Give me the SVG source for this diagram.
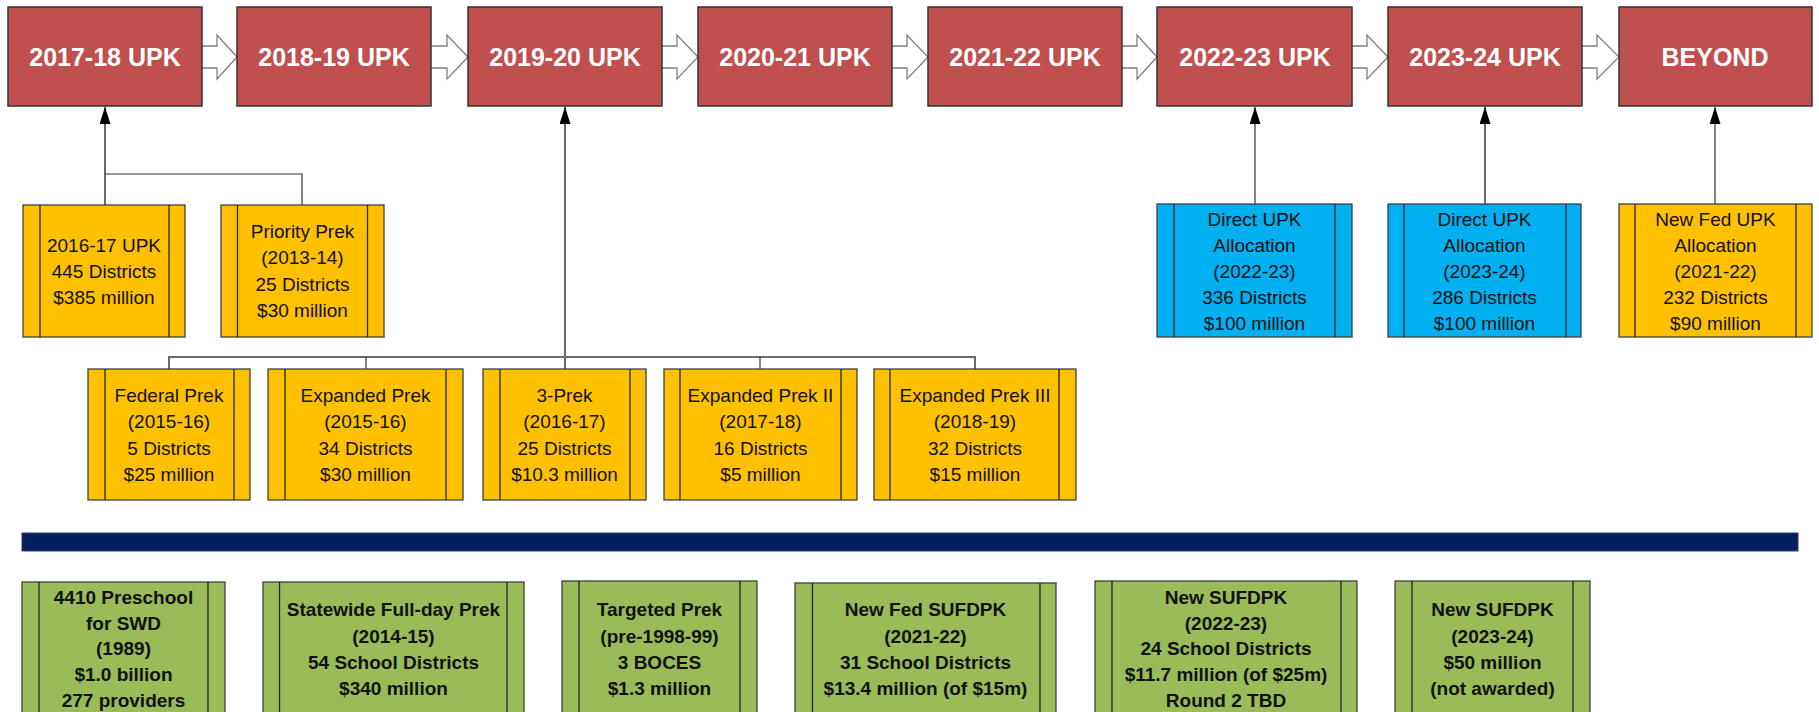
<svg xmlns="http://www.w3.org/2000/svg" width="1819" height="712" viewBox="0 0 1819 712">
<defs>
<marker id="ah" markerWidth="11" markerHeight="17" refX="5.5" refY="0" orient="auto-start-reverse" markerUnits="userSpaceOnUse" viewBox="0 0 11 17">
</marker>
<marker id="tri" viewBox="0 0 17 11" refX="17" refY="5.5" markerWidth="17" markerHeight="11" markerUnits="userSpaceOnUse" orient="auto">
<path d="M0,0 L17,5.5 L0,11 Z" fill="#000"/>
</marker>
</defs>
<style>
.red{fill:#C0504D;stroke:#333;stroke-width:1.5}
.yel{fill:#FFC000;stroke:#404040;stroke-width:1.3}
.blu{fill:#00B0F0;stroke:#404040;stroke-width:1.3}
.grn{fill:#9BBB59;stroke:#404040;stroke-width:1.3}
.in{stroke:#262626;stroke-width:1.3;fill:none}
.rt{font-family:"Liberation Sans",Arial,sans-serif;font-weight:bold;font-size:25px;fill:#fff;text-anchor:middle}
.t{font-family:"Liberation Sans",Arial,sans-serif;font-size:19px;fill:#111;text-anchor:middle}
.gt{font-family:"Liberation Sans",Arial,sans-serif;font-weight:bold;font-size:19px;fill:#111;text-anchor:middle}
.ha{fill:#fff;stroke:#7f7f7f;stroke-width:1.3}
.c1{stroke:#6b6b6b;stroke-width:2;fill:none}
.c2{stroke:#333;stroke-width:1.2;fill:none}
</style>
<rect width="1819" height="712" fill="#fff"/>

<g id="connectors">
<polygon class="ha" points="200,46 217,46 217,35 237,57 217,79 217,68 200,68"/>
<polygon class="ha" points="430,46 447,46 447,35 468,57 447,79 447,68 430,68"/>
<polygon class="ha" points="660,46 677,46 677,35 698,57 677,79 677,68 660,68"/>
<polygon class="ha" points="890,46 907,46 907,35 928,57 907,79 907,68 890,68"/>
<polygon class="ha" points="1120,46 1137,46 1137,35 1157,57 1137,79 1137,68 1120,68"/>
<polygon class="ha" points="1350,46 1367,46 1367,35 1388,57 1367,79 1367,68 1350,68"/>
<polygon class="ha" points="1580,46 1597,46 1597,35 1619,57 1597,79 1597,68 1580,68"/>
<line class="c1" x1="105" y1="205" x2="105" y2="107" marker-end="url(#tri)"/>
<polyline class="c2" points="105,174 302,174 302,205"/>
<line class="c1" x1="565" y1="369" x2="565" y2="107" marker-end="url(#tri)"/>
<polyline class="c1" points="169,369 169,357 975,357 975,369"/>
<line class="c2" x1="366" y1="357" x2="366" y2="369"/>
<line class="c2" x1="760" y1="357" x2="760" y2="369"/>
<line class="c2" x1="1255" y1="204" x2="1255" y2="107" marker-end="url(#tri)"/>
<line class="c1" x1="1485" y1="204" x2="1485" y2="107" marker-end="url(#tri)"/>
<line class="c2" x1="1715" y1="204" x2="1715" y2="107" marker-end="url(#tri)"/>
</g>

<g id="upk1718"><rect class="red" x="8" y="7" width="194" height="99"/><text class="rt" x="105" y="66">2017-18 UPK</text></g>
<g id="upk1819"><rect class="red" x="237" y="7" width="194" height="99"/><text class="rt" x="334" y="66">2018-19 UPK</text></g>
<g id="upk1920"><rect class="red" x="468" y="7" width="194" height="99"/><text class="rt" x="565" y="66">2019-20 UPK</text></g>
<g id="upk2021"><rect class="red" x="698" y="7" width="194" height="99"/><text class="rt" x="795" y="66">2020-21 UPK</text></g>
<g id="upk2122"><rect class="red" x="928" y="7" width="194" height="99"/><text class="rt" x="1025" y="66">2021-22 UPK</text></g>
<g id="upk2223"><rect class="red" x="1157" y="7" width="195" height="99"/><text class="rt" x="1255" y="66">2022-23 UPK</text></g>
<g id="upk2324"><rect class="red" x="1388" y="7" width="194" height="99"/><text class="rt" x="1485" y="66">2023-24 UPK</text></g>
<g id="beyond"><rect class="red" x="1619" y="7" width="193" height="99"/><text class="rt" x="1715" y="66">BEYOND</text></g>

<g id="upk1617"><rect class="yel" x="23" y="205" width="162" height="132"/><path class="in" d="M40,205V337M169,205V337"/>
<text class="t" x="104" y="252">2016-17 UPK</text><text class="t" x="104" y="278">445 Districts</text><text class="t" x="104" y="304">$385 million</text></g>
<g id="priority"><rect class="yel" x="221" y="205" width="163" height="132"/><path class="in" d="M237.5,205V337M367.5,205V337"/>
<text class="t" x="302.5" y="238">Priority Prek</text><text class="t" x="302.5" y="264">(2013-14)</text><text class="t" x="302.5" y="291">25 Districts</text><text class="t" x="302.5" y="317">$30 million</text></g>

<g id="federal"><rect class="yel" x="88" y="369" width="162" height="131"/><path class="in" d="M105,369V500M234,369V500"/>
<text class="t" x="169" y="402">Federal Prek</text><text class="t" x="169" y="428">(2015-16)</text><text class="t" x="169" y="455">5 Districts</text><text class="t" x="169" y="481">$25 million</text></g>
<g id="expanded"><rect class="yel" x="268" y="369" width="195" height="131"/><path class="in" d="M285,369V500M446,369V500"/>
<text class="t" x="365.5" y="402">Expanded Prek</text><text class="t" x="365.5" y="428">(2015-16)</text><text class="t" x="365.5" y="455">34 Districts</text><text class="t" x="365.5" y="481">$30 million</text></g>
<g id="threeprek"><rect class="yel" x="483" y="369" width="163" height="131"/><path class="in" d="M500,369V500M630,369V500"/>
<text class="t" x="564.5" y="402">3-Prek</text><text class="t" x="564.5" y="428">(2016-17)</text><text class="t" x="564.5" y="455">25 Districts</text><text class="t" x="564.5" y="481">$10.3 million</text></g>
<g id="expanded2"><rect class="yel" x="664" y="369" width="193" height="131"/><path class="in" d="M680,369V500M841,369V500"/>
<text class="t" x="760.5" y="402">Expanded Prek II</text><text class="t" x="760.5" y="428">(2017-18)</text><text class="t" x="760.5" y="455">16 Districts</text><text class="t" x="760.5" y="481">$5 million</text></g>
<g id="expanded3"><rect class="yel" x="874" y="369" width="202" height="131"/><path class="in" d="M890,369V500M1059,369V500"/>
<text class="t" x="975" y="402">Expanded Prek III</text><text class="t" x="975" y="428">(2018-19)</text><text class="t" x="975" y="455">32 Districts</text><text class="t" x="975" y="481">$15 million</text></g>

<g id="direct2223"><rect class="blu" x="1157" y="204" width="195" height="133"/><path class="in" d="M1174,204V337M1335,204V337"/>
<text class="t" x="1254.5" y="226">Direct UPK</text><text class="t" x="1254.5" y="252">Allocation</text><text class="t" x="1254.5" y="278">(2022-23)</text><text class="t" x="1254.5" y="304">336 Districts</text><text class="t" x="1254.5" y="330">$100 million</text></g>
<g id="direct2324"><rect class="blu" x="1388" y="204" width="193" height="133"/><path class="in" d="M1404,204V337M1566,204V337"/>
<text class="t" x="1484.5" y="226">Direct UPK</text><text class="t" x="1484.5" y="252">Allocation</text><text class="t" x="1484.5" y="278">(2023-24)</text><text class="t" x="1484.5" y="304">286 Districts</text><text class="t" x="1484.5" y="330">$100 million</text></g>
<g id="newfedupk"><rect class="yel" x="1619" y="204" width="193" height="133"/><path class="in" d="M1635,204V337M1796,204V337"/>
<text class="t" x="1715.5" y="226">New Fed UPK</text><text class="t" x="1715.5" y="252">Allocation</text><text class="t" x="1715.5" y="278">(2021-22)</text><text class="t" x="1715.5" y="304">232 Districts</text><text class="t" x="1715.5" y="330">$90 million</text></g>

<g id="divider"><rect x="22" y="533" width="1776" height="18" fill="#002060" stroke="#3a3a5a" stroke-width="1"/></g>

<g id="g4410"><rect class="grn" x="22" y="582" width="203" height="140"/><path class="in" d="M39,582V722M208,582V722"/>
<text class="gt" x="123.5" y="604">4410 Preschool</text><text class="gt" x="123.5" y="630">for SWD</text><text class="gt" x="123.5" y="655">(1989)</text><text class="gt" x="123.5" y="681">$1.0 billion</text><text class="gt" x="123.5" y="707">277 providers</text></g>
<g id="gstatewide"><rect class="grn" x="263" y="582" width="261" height="140"/><path class="in" d="M279.5,582V722M507,582V722"/>
<text class="gt" x="393.5" y="616">Statewide Full-day Prek</text><text class="gt" x="393.5" y="643">(2014-15)</text><text class="gt" x="393.5" y="669">54 School Districts</text><text class="gt" x="393.5" y="695">$340 million</text></g>
<g id="gtargeted"><rect class="grn" x="562" y="581" width="195" height="141"/><path class="in" d="M579,581V722M740,581V722"/>
<text class="gt" x="659.5" y="616">Targeted Prek</text><text class="gt" x="659.5" y="643">(pre-1998-99)</text><text class="gt" x="659.5" y="669">3 BOCES</text><text class="gt" x="659.5" y="695">$1.3 million</text></g>
<g id="gnewfed"><rect class="grn" x="795" y="583" width="261" height="139"/><path class="in" d="M812.5,583V722M1040,583V722"/>
<text class="gt" x="925.5" y="616">New Fed SUFDPK</text><text class="gt" x="925.5" y="643">(2021-22)</text><text class="gt" x="925.5" y="669">31 School Districts</text><text class="gt" x="925.5" y="695">$13.4 million (of $15m)</text></g>
<g id="gsufdpk2223"><rect class="grn" x="1095" y="581" width="262" height="141"/><path class="in" d="M1112,581V722M1341,581V722"/>
<text class="gt" x="1226" y="604">New SUFDPK</text><text class="gt" x="1226" y="630">(2022-23)</text><text class="gt" x="1226" y="655">24 School Districts</text><text class="gt" x="1226" y="681">$11.7 million (of $25m)</text><text class="gt" x="1226" y="707">Round 2 TBD</text></g>
<g id="gsufdpk2324"><rect class="grn" x="1395" y="581" width="195" height="141"/><path class="in" d="M1412,581V722M1573,581V722"/>
<text class="gt" x="1492.5" y="616">New SUFDPK</text><text class="gt" x="1492.5" y="643">(2023-24)</text><text class="gt" x="1492.5" y="669">$50 million</text><text class="gt" x="1492.5" y="695">(not awarded)</text></g>
</svg>
